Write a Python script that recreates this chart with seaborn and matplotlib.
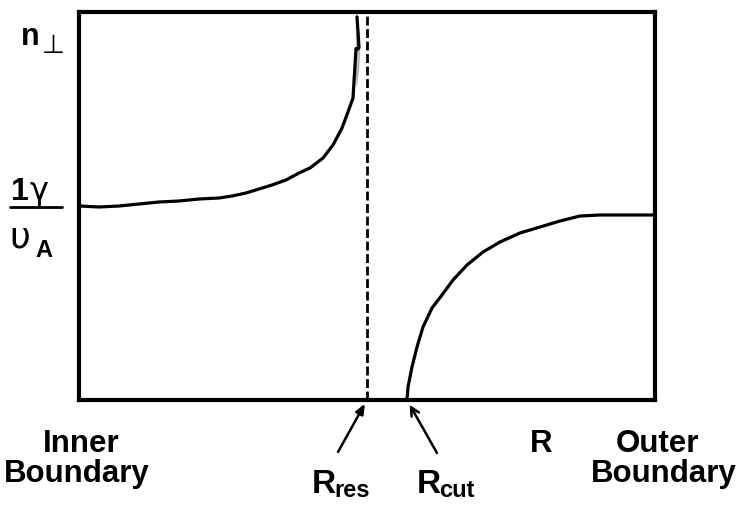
import numpy as np
import pandas as pd
import matplotlib
matplotlib.use("Agg")
import matplotlib.pyplot as plt
from matplotlib.lines import Line2D
import seaborn as sns

# ---- data (x: R from inner boundary, y: n_perp) ----
left_R = [0, 20, 40, 60, 80, 100, 120, 140, 153, 167, 180, 193, 207, 220, 231,
          244, 254, 263, 269, 274, 277, 279, 280, 280, 279, 278, 277]
left_n = [194, 193, 194, 196, 198, 199, 201, 202, 204, 207, 211, 215, 220, 227, 232,
          242, 255, 272, 288, 302, 315, 330, 345, 360, 372, 383, 388]
right_R = [328, 329, 333, 338, 344, 353, 363, 374, 388, 404, 421, 441, 461, 481,
           501, 521, 554, 576]
right_n = [0, 13, 33, 53, 73, 92, 105, 120, 135, 148, 158, 167, 173, 179,
           184, 185, 185, 185]
R_res = 288
R_cut = 328
R_max = 576
n_max = 388

sns.set_style("white")
plt.rcParams['font.family'] = ['Liberation Sans', 'DejaVu Sans']

W, H = 736, 507
fig = plt.figure(figsize=(W / 100, H / 100), dpi=100)
ax = fig.add_axes([79 / W, 1 - 400 / H, (655 - 79) / W, (400 - 12) / H])

df_l = pd.DataFrame({"R": left_R, "n": left_n})
df_r = pd.DataFrame({"R": right_R, "n": right_n})
sns.lineplot(data=df_l, x="R", y="n", sort=False, color="black", lw=2.3, ax=ax)
sns.lineplot(data=df_r, x="R", y="n", sort=False, color="black", lw=2.3, ax=ax)
for ln in ax.lines:
    ln.set_solid_joinstyle("round")
    ln.set_solid_capstyle("round")
ax.axvline(R_res, color="black", lw=2.0, linestyle=(0, (3.2, 1.3)))

ax.set_xlim(0, R_max)
ax.set_ylim(0, n_max)
ax.set_xticks([])
ax.set_yticks([])
ax.set_xlabel("")
ax.set_ylabel("")
for s in ax.spines.values():
    s.set_color("black")
    s.set_linewidth(3.0)


def fx(px):
    return px / W


def fy(py):
    return 1 - py / H


bold = dict(fontweight="bold", color="black")

# bottom labels
fig.text(fx(81), fy(444), "Inner", ha="center", va="center", fontsize=22.5, **bold)
fig.text(fx(77), fy(474), "Boundary", ha="center", va="center", fontsize=22.5, **bold)
fig.text(fx(657), fy(444), "Outer", ha="center", va="center", fontsize=22.5, **bold)
fig.text(fx(664), fy(474), "Boundary", ha="center", va="center", fontsize=22.5, **bold)
fig.text(fx(541), fy(444), "R", ha="center", va="center", fontsize=22.5, **bold)

fig.text(fx(312), fy(493), "R", ha="left", va="baseline", fontsize=24, **bold)
fig.text(fx(334), fy(497), "res", ha="left", va="baseline", fontsize=17, **bold)
fig.text(fx(417), fy(493), "R", ha="left", va="baseline", fontsize=24, **bold)
fig.text(fx(439), fy(497), "cut", ha="left", va="baseline", fontsize=17, **bold)

# arrows
ax.annotate("", xy=(R_res, 0), xycoords="data",
            xytext=(fx(338), fy(452)), textcoords="figure fraction",
            arrowprops=dict(arrowstyle="-|>,head_length=0.6,head_width=0.25",
                            color="black", lw=1.8, shrinkA=0, shrinkB=3),
            annotation_clip=False)
ax.annotate("", xy=(R_cut, 0), xycoords="data",
            xytext=(fx(437), fy(453)), textcoords="figure fraction",
            arrowprops=dict(arrowstyle="->,head_length=0.6,head_width=0.3",
                            color="black", lw=1.8, shrinkA=0, shrinkB=4),
            annotation_clip=False)

# y labels
fig.text(fx(21), fy(45), "n", ha="left", va="baseline", fontsize=22, **bold)
fig.text(fx(42), fy(53), "\u22a5", ha="left", va="baseline", fontsize=19,
         color="black", family=["DejaVu Sans"])
fig.text(fx(11), fy(200), "1", ha="left", va="baseline", fontsize=23, **bold)
fig.text(fx(29), fy(200), "\u03b3", ha="left", va="baseline", fontsize=23,
         color="black", family=["DejaVu Sans"])
fig.add_artist(Line2D([fx(10), fx(62)], [fy(207), fy(207)], color="black", lw=2.0))
fig.text(fx(9), fy(247), "\u03c5", ha="left", va="baseline", fontsize=26,
         color="black", family=["DejaVu Sans"])
fig.text(fx(35), fy(257), "A", ha="left", va="baseline", fontsize=17, **bold)

fig.savefig("out.png", dpi=100)
